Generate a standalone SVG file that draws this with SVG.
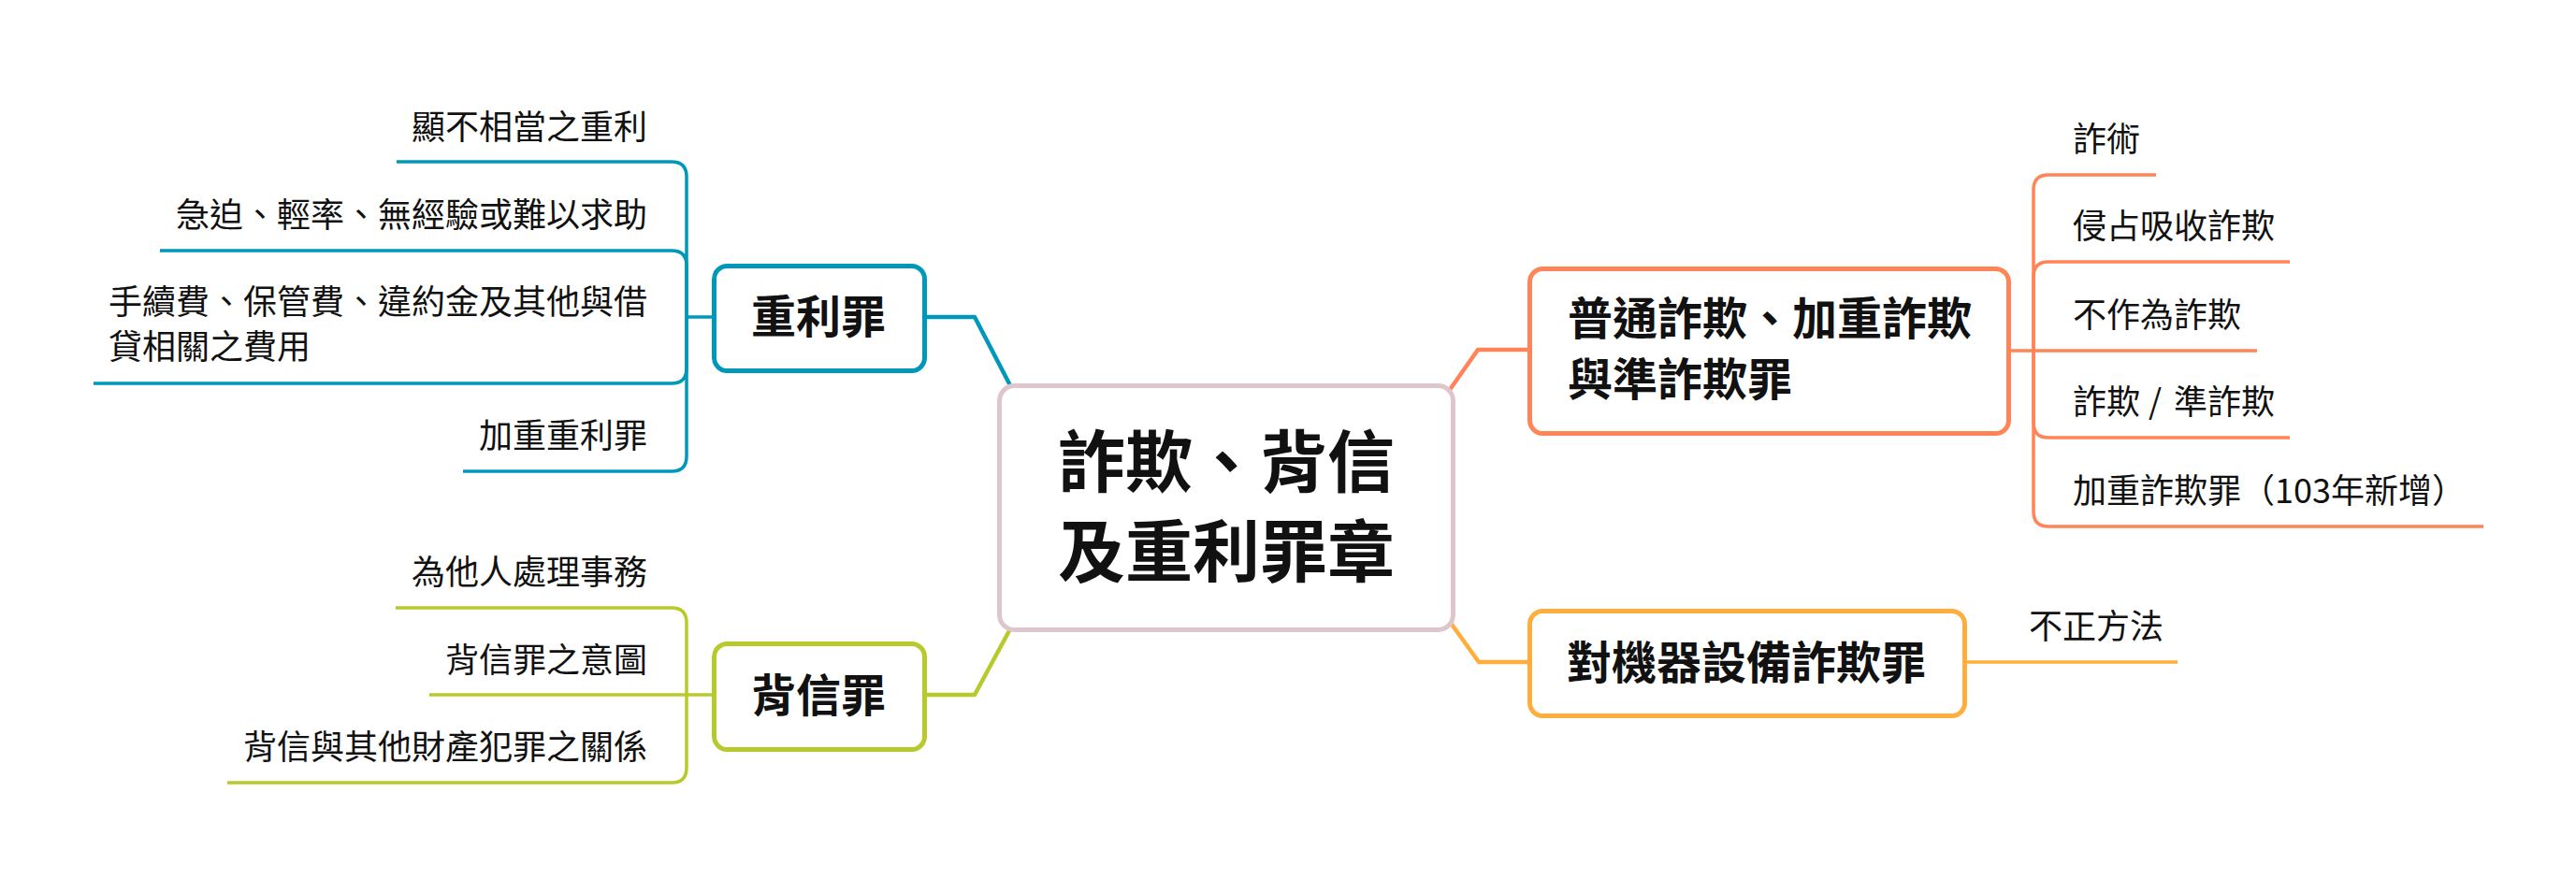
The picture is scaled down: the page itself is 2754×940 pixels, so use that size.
<svg xmlns="http://www.w3.org/2000/svg" width="2754" height="940" viewBox="0 0 2754 940">
<style>
  .bg{fill:#ffffff}
  .box{fill:#ffffff;stroke-width:5}
  .conn{fill:none;stroke-width:4.5;stroke-linejoin:round}
  .sub{fill:none;stroke-width:3.5;stroke-linejoin:round}
  .blue{stroke:#0098BA}
  .green{stroke:#B8CA2B}
  .orange{stroke:#FF8458}
  .yellow{stroke:#FFAD3B}
  .pink{stroke:#DEC6CC}
  text{font-family:"Noto Sans CJK TC","Noto Sans CJK SC",sans-serif;fill:#111111}
  .tc{font-size:72px;font-weight:700}
  .tb{font-size:48px;font-weight:700}
  .ts{font-size:36px;font-weight:400}
</style>
<rect class="bg" x="0" y="0" width="2754" height="940"/>

<g id="connectors">
  <!-- main branches -->
  <path class="conn blue" d="M 991 339 L 1042 339 L 1082 416"/>
  <path class="conn green" d="M 991 743 L 1042 743 L 1082 669"/>
  <path class="conn orange" d="M 1547 421 L 1580 374 L 1635 374"/>
  <path class="conn yellow" d="M 1548 662 L 1581 708 L 1635 708"/>
  <!-- blue children -->
  <path class="sub blue" d="M 763 339 L 734 339"/>
  <path class="sub blue" d="M 734 339 L 734 189 Q 734 173 718 173 L 424 173"/>
  <path class="sub blue" d="M 734 339 L 734 284 Q 734 268 718 268 L 171 268"/>
  <path class="sub blue" d="M 734 339 L 734 394 Q 734 410 718 410 L 100 410"/>
  <path class="sub blue" d="M 734 339 L 734 488 Q 734 504 718 504 L 495 504"/>
  <!-- green children -->
  <path class="sub green" d="M 763 743 L 459 743"/>
  <path class="sub green" d="M 734 743 L 734 666 Q 734 650 718 650 L 423 650"/>
  <path class="sub green" d="M 734 743 L 734 821 Q 734 837 718 837 L 243 837"/>
  <!-- orange children -->
  <path class="sub orange" d="M 2148 375 L 2413 375"/>
  <path class="sub orange" d="M 2174 375 L 2174 203 Q 2174 187 2190 187 L 2305 187"/>
  <path class="sub orange" d="M 2174 375 L 2174 296 Q 2174 280 2190 280 L 2448 280"/>
  <path class="sub orange" d="M 2174 375 L 2174 452 Q 2174 468 2190 468 L 2448 468"/>
  <path class="sub orange" d="M 2174 375 L 2174 547 Q 2174 563 2190 563 L 2655 563"/>
  <!-- yellow child -->
  <path class="sub yellow" d="M 2101 708 L 2328 708"/>
</g>

<g id="center">
  <rect class="box pink" x="1068.5" y="412.5" width="485" height="261" rx="16"/>
  <text class="tc" x="1311" y="520" text-anchor="middle">詐欺、背信</text>
  <text class="tc" x="1311" y="616" text-anchor="middle">及重利罪章</text>
</g>

<g id="node-usury">
  <rect class="box blue" x="763.5" y="284.5" width="225" height="112" rx="14"/>
  <text class="tb" x="875" y="356" text-anchor="middle">重利罪</text>
</g>
<g id="node-usury-1"><text class="ts" x="692" y="149" text-anchor="end">顯不相當之重利</text></g>
<g id="node-usury-2"><text class="ts" x="692" y="243" text-anchor="end">急迫、輕率、無經驗或難以求助</text></g>
<g id="node-usury-3">
  <text class="ts" x="116" y="336">手續費、保管費、違約金及其他與借</text>
  <text class="ts" x="116" y="384">貸相關之費用</text>
</g>
<g id="node-usury-4"><text class="ts" x="692" y="479" text-anchor="end">加重重利罪</text></g>

<g id="node-breach">
  <rect class="box green" x="763.5" y="688.5" width="225" height="113" rx="14"/>
  <text class="tb" x="875" y="761" text-anchor="middle">背信罪</text>
</g>
<g id="node-breach-1"><text class="ts" x="692" y="625" text-anchor="end">為他人處理事務</text></g>
<g id="node-breach-2"><text class="ts" x="692" y="719" text-anchor="end">背信罪之意圖</text></g>
<g id="node-breach-3"><text class="ts" x="692" y="812" text-anchor="end">背信與其他財產犯罪之關係</text></g>

<g id="node-fraud">
  <rect class="box orange" x="1635.5" y="287.5" width="512" height="176" rx="14"/>
  <text class="tb" x="1676" y="358">普通詐欺、加重詐欺</text>
  <text class="tb" x="1676" y="423">與準詐欺罪</text>
</g>
<g id="node-fraud-1"><text class="ts" x="2216" y="162">詐術</text></g>
<g id="node-fraud-2"><text class="ts" x="2216" y="255">侵占吸收詐欺</text></g>
<g id="node-fraud-3"><text class="ts" x="2216" y="350">不作為詐欺</text></g>
<g id="node-fraud-4"><text class="ts" y="443"><tspan x="2216">詐欺 </tspan><tspan x="2297">/ </tspan><tspan x="2324">準詐欺</tspan></text></g>
<g id="node-fraud-5"><text class="ts" x="2216" y="538">加重詐欺罪（103年新增）</text></g>

<g id="node-machine">
  <rect class="box yellow" x="1635.5" y="653.5" width="465" height="112" rx="14"/>
  <text class="tb" x="1867" y="726" text-anchor="middle">對機器設備詐欺罪</text>
</g>
<g id="node-machine-1"><text class="ts" x="2169" y="683">不正方法</text></g>
</svg>
